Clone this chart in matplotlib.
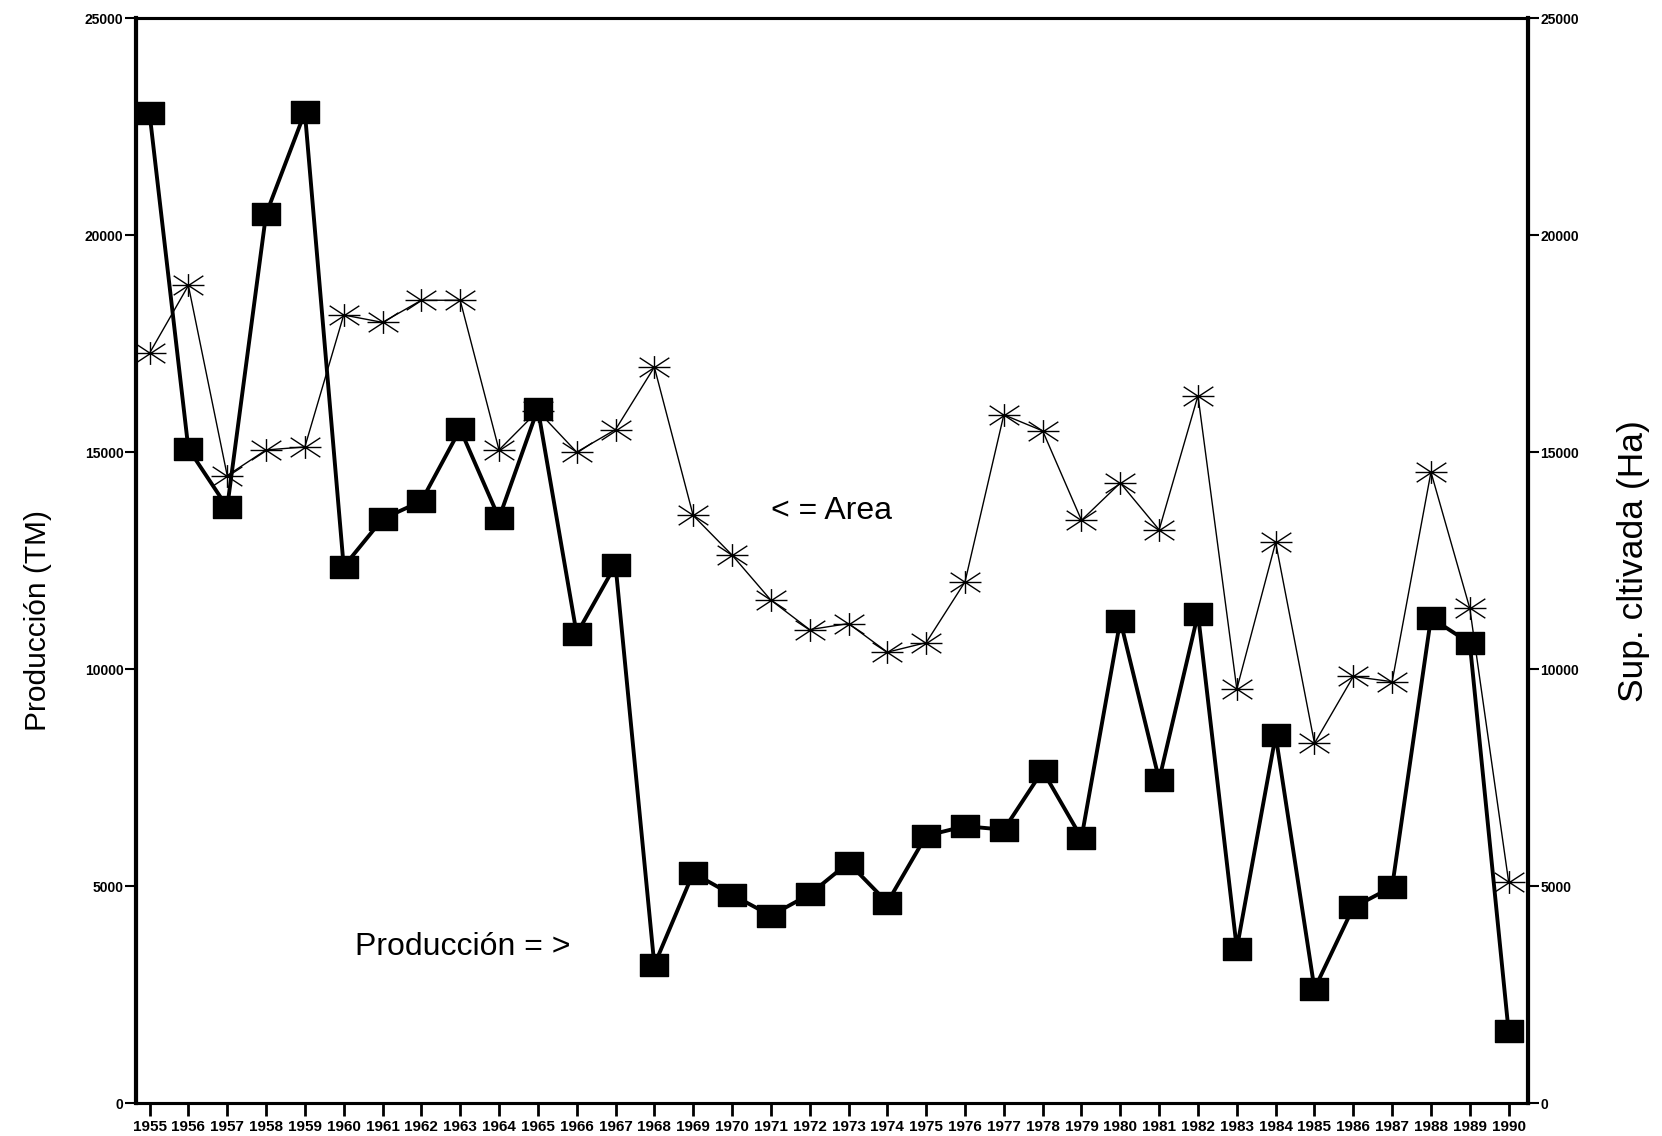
import matplotlib
matplotlib.use("Agg")
import matplotlib.pyplot as plt
from matplotlib.path import Path

years = list(range(1955, 1991))
produccion = [22810, 15080, 13730, 20480, 22830, 12360, 13460, 13870, 15530, 13480,
              16000, 10810, 12400, 3180, 5300, 4800, 4320, 4810, 5540, 4620,
              6160, 6380, 6300, 7660, 6110, 11120, 7450, 11270, 3560, 8470,
              2630, 4510, 4980, 11180, 10600, 1650]
area = [17280, 18840, 14460, 15050, 15120, 18160, 17990, 18500, 18500, 15050,
        15950, 15000, 15520, 16960, 13540, 12630, 11590, 10910, 11050, 10390,
        10610, 12010, 15860, 15490, 13430, 14290, 13210, 16300, 9540, 12920,
        8290, 9830, 9710, 14540, 11400, 5100]
yticks = [0, 5000, 10000, 15000, 20000, 25000]

plt.rcParams['font.family'] = ['Liberation Sans', 'DejaVu Sans']

fig = plt.figure(figsize=(16.62, 11.36), dpi=100)
ax = fig.add_axes([0.0818, 0.029, 0.8376, 0.955])
ax2 = ax.twinx()

sq = Path([(-1.3, -1.0), (1.3, -1.0), (1.3, 1.0), (-1.3, 1.0), (-1.3, -1.0)],
          [Path.MOVETO, Path.LINETO, Path.LINETO, Path.LINETO, Path.CLOSEPOLY])
ast = Path([(-1.4, 0), (1.4, 0), (-1.3, -0.85), (1.3, 0.85), (-1.3, 0.85), (1.3, -0.85),
            (0, -1.0), (0, 1.0)],
           [Path.MOVETO, Path.LINETO, Path.MOVETO, Path.LINETO, Path.MOVETO, Path.LINETO,
            Path.MOVETO, Path.LINETO])

ax2.plot(years, area, color='black', linewidth=1.0, marker=ast, markersize=23,
         markerfacecolor='none', markeredgecolor='black', markeredgewidth=1.0, zorder=2)
ax.plot(years, produccion, color='black', linewidth=2.8, marker=sq, markersize=20,
        markerfacecolor='black', markeredgecolor='black', zorder=3)
ax.set_zorder(ax2.get_zorder() + 1)
ax.patch.set_visible(False)

for a in (ax, ax2):
    a.set_xlim(1954.65, 1990.5)
    a.set_ylim(0, 25000)
    a.set_yticks(yticks)
    a.set_yticklabels([str(v) for v in yticks], fontsize=10, fontweight='bold')
    for s in a.spines.values():
        s.set_linewidth(2.2)

ax.set_xticks(years)
ax.set_xticklabels([str(y) for y in years], fontsize=11, fontweight='bold')
ax.tick_params(axis='x', direction='out', length=9, width=2, pad=3)
ax.tick_params(axis='y', direction='out', length=8, width=1.5, pad=1)
ax2.tick_params(axis='y', direction='out', length=8, width=1.5, pad=1)
ax.spines['left'].set_linewidth(3)
ax2.spines['right'].set_linewidth(3)

ax.set_ylabel('Producción (TM)', fontsize=21.5)
ax.yaxis.set_label_coords(-0.060, 0.445)
ax2.set_ylabel('Sup. cltivada (Ha)', fontsize=25.5)
ax2.yaxis.set_label_coords(1.064, 0.50)

ax.text(1971.0, 13650, '< = Area', fontsize=23, va='center', ha='left')
ax.text(1960.3, 3600, 'Producción = >', fontsize=23, va='center', ha='left')

fig.savefig('out.png', dpi=100, facecolor='white')
